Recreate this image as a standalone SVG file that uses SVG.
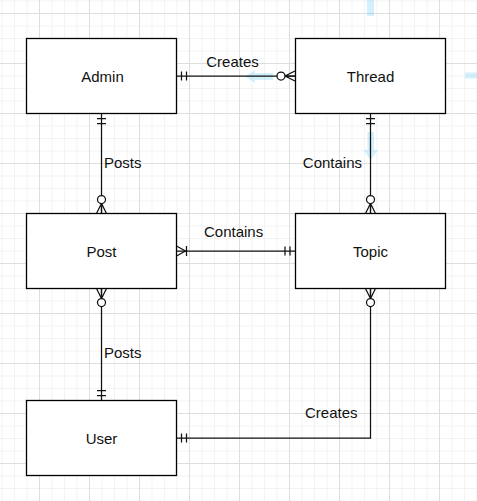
<svg xmlns="http://www.w3.org/2000/svg" width="477" height="501" viewBox="0 0 477 501">
<style>
.node rect{fill:#fff;stroke:#000;stroke-width:1.3}
.node text{font-family:"Liberation Sans",Arial,sans-serif;font-size:15px;fill:#111;text-anchor:middle}
.edge{fill:none;stroke:#111;stroke-width:1.25}
.mk{fill:none;stroke:#111;stroke-width:1.25}
.mkc{fill:#fff;stroke:#111;stroke-width:1.25}
.lbl{font-family:"Liberation Sans",Arial,sans-serif;font-size:15px;fill:#111}
.hover{fill:#29b6f2;opacity:0.2}
</style>
<defs>
<pattern id="minor" width="12.5" height="12.5" patternUnits="userSpaceOnUse" x="1.5" y="0.5">
<path d="M0.5,0 V12.5 M0,0.5 H12.5" fill="none" stroke="#f3f3f3" stroke-width="1"/>
</pattern>
<pattern id="major" width="50" height="50" patternUnits="userSpaceOnUse" x="39" y="13">
<path d="M0.5,0 V50 M0,0.5 H50" fill="none" stroke="#dedede" stroke-width="1"/>
</pattern>
<marker id="one" markerUnits="userSpaceOnUse" markerWidth="30" markerHeight="30" refX="0" refY="0" orient="auto-start-reverse" overflow="visible">
<path class="mk" d="M-5,-4.5 V4.5 M-10,-4.5 V4.5"/>
</marker>
<marker id="zeroMany" markerUnits="userSpaceOnUse" markerWidth="30" markerHeight="30" refX="0" refY="0" orient="auto-start-reverse" overflow="visible">
<path class="mk" d="M0,-5 L-10,0 L0,5 M-10,0 H0"/>
<circle class="mkc" cx="-14" cy="0" r="4"/>
</marker>
<marker id="oneMany" markerUnits="userSpaceOnUse" markerWidth="30" markerHeight="30" refX="0" refY="0" orient="auto-start-reverse" overflow="visible">
<path class="mk" d="M0,-5 L-9,0 L0,5 M-10,-5 V5"/>
</marker>
</defs>
<rect width="477" height="501" fill="#fff"/>
<rect width="477" height="501" fill="url(#minor)"/>
<rect width="477" height="501" fill="url(#major)"/>

<g id="hover-arrows">
<path class="hover" d="M245,76.5 L255,70 V73 H273 V80 H255 V83 Z"/>
<path class="hover" d="M367.5,132 H374 V150 H378 L370.7,160 L363.5,150 H367.5 Z"/>
<rect class="hover" x="367" y="0" width="7" height="16"/>
<rect class="hover" x="465" y="72.5" width="12" height="6"/>
</g>

<g id="connectors">
<path class="edge" d="M176.5,76 H295" marker-start="url(#one)" marker-end="url(#zeroMany)"/>
<path class="edge" d="M101.5,113.5 V213.5" marker-start="url(#one)" marker-end="url(#zeroMany)"/>
<path class="edge" d="M176.5,251 H295" marker-start="url(#oneMany)" marker-end="url(#one)"/>
<path class="edge" d="M370.5,113.5 V213.5" marker-start="url(#one)" marker-end="url(#zeroMany)"/>
<path class="edge" d="M101.5,288.5 V400.5" marker-start="url(#zeroMany)" marker-end="url(#one)"/>
<path class="edge" d="M176.5,438 H370.5 V288.5" marker-start="url(#one)" marker-end="url(#zeroMany)"/>
<text class="lbl" x="232.5" y="67" text-anchor="middle">Creates</text>
<text class="lbl" x="104" y="167.5">Posts</text>
<text class="lbl" x="204" y="236.5">Contains</text>
<text class="lbl" x="362" y="167.5" text-anchor="end">Contains</text>
<text class="lbl" x="104" y="357.5">Posts</text>
<text class="lbl" x="305" y="417.5">Creates</text>
</g>

<g id="admin" class="node"><rect x="26.5" y="38.5" width="150" height="75"/><text x="102.5" y="81.5">Admin</text></g>
<g id="thread" class="node"><rect x="295.5" y="38.5" width="150" height="75"/><text x="370.5" y="81.5">Thread</text></g>
<g id="post" class="node"><rect x="26.5" y="213.5" width="150" height="75"/><text x="101.5" y="256.5">Post</text></g>
<g id="topic" class="node"><rect x="295.5" y="213.5" width="150" height="75"/><text x="370.5" y="256.5">Topic</text></g>
<g id="user" class="node"><rect x="26.5" y="400.5" width="150" height="75"/><text x="101.5" y="443.5">User</text></g>
</svg>
